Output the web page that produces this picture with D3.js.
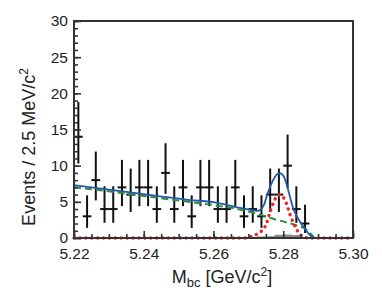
<!DOCTYPE html>
<html>
<head>
<meta charset="utf-8">
<script src="https://cdn.jsdelivr.net/npm/d3@7"></script>
<style>
  body { margin: 0; background: #fff; }
  svg { display: block; font-family: 'Liberation Sans', Arial, sans-serif; }
</style>
</head>
<body>
<svg id="chart" width="382" height="290"></svg>
<script>
// bin centres (2.5 MeV bins) and counts
const binCenters = [5.22125, 5.22375, 5.22625, 5.22875, 5.23125, 5.23375, 5.23625, 5.23875,
  5.24125, 5.24375, 5.24625, 5.24875, 5.25125, 5.25375, 5.25625, 5.25875,
  5.26125, 5.26375, 5.26625, 5.26875, 5.27125, 5.27375, 5.27625, 5.27875,
  5.28125, 5.28375, 5.28625, 5.28875, 5.29125, 5.29375, 5.29625, 5.29875];
const counts = [14, 3, 8, 4, 4, 7, 6, 7, 7, 4, 9, 4, 7, 3, 7, 7,
  4, 4, 7, 3, 4, 3, 6, 6, 10, 4, 2, 0, 0, 0, 0, 0];
// ends of the (asymmetric) error bars
const errLow = [10.3, 1.4, 5.2, 2.1, 2.1, 4.4, 3.6, 4.4, 4.4, 2.1, 6.1, 2.1, 4.4, 1.4, 4.4, 4.4,
  2.1, 2.1, 4.4, 1.4, 2.1, 1.4, 3.6, 3.6, 6.9, 2.1, 0.7, 0, 0, 0, 0, 0];
const errHigh = [18.8, 5.9, 11.95, 7.15, 7.15, 10.8, 9.6, 10.8, 10.8, 7.15, 13.1, 7.15, 10.8, 5.9, 10.8, 10.8,
  7.15, 7.15, 10.8, 5.9, 7.15, 5.9, 9.6, 9.6, 14.3, 7.15, 4.6, 0, 0, 0, 0, 0];
// small grey peaking component (per bin)
const peakingBkg = [0, 0, 0, 0, 0, 0, 0, 0, 0, 0, 0, 0, 0, 0, 0, 0,
  0, 0, 0.05, 0.1, 0.15, 0.2, 0.25, 0.45, 0.5, 0.4, 0.15, 0, 0, 0, 0, 0];

// fit curves, sampled by eye: [Mbc, value]
const totalFit = [[5.2200, 7.3], [5.2361, 6.3], [5.2533, 5.25], [5.2599, 4.95], [5.2676, 4.15],
  [5.2705, 3.9], [5.2725, 3.75], [5.2736, 3.95], [5.2745, 4.6], [5.2756, 6.3], [5.2771, 8.0],
  [5.2782, 8.8], [5.2790, 8.95], [5.2799, 8.7], [5.2808, 7.7], [5.2816, 6.3], [5.2828, 4.2],
  [5.2839, 3.0], [5.2848, 2.25], [5.2860, 1.4], [5.2871, 0.7], [5.2883, 0.1], [5.2886, 0]];
const bkgFit = [[5.2200, 7.0], [5.2260, 6.7], [5.2361, 6.05], [5.2466, 5.4], [5.2561, 4.8],
  [5.2647, 4.2], [5.2724, 3.35], [5.2771, 2.65], [5.2810, 2.15], [5.2834, 1.8],
  [5.2862, 1.3], [5.2877, 0.7], [5.2885, 0.25], [5.2890, 0]];
const signalFit = [[5.2200, 0], [5.2690, 0], [5.2705, 0.15], [5.2719, 0.4], [5.2733, 0.8],
  [5.2743, 1.2], [5.2751, 1.9], [5.2762, 3.6], [5.2771, 4.8], [5.2779, 5.6], [5.2789, 5.95],
  [5.2799, 5.7], [5.2808, 4.9], [5.2819, 3.3], [5.2828, 2.2], [5.2837, 1.3], [5.2848, 0.5],
  [5.2860, 0.15], [5.2871, 0], [5.3000, 0]];

const xTicks = [5.22, 5.24, 5.26, 5.28, 5.30];
const yTicks = [0, 5, 10, 15, 20, 25, 30];
const binWidth = 0.0025;

const svg = d3.select('#chart');
const margin = { top: 21, right: 29, bottom: 52, left: 74 };
const W = 382 - margin.left - margin.right;
const H = 290 - margin.top - margin.bottom;
const g = svg.append('g').attr('transform', `translate(${margin.left},${margin.top})`);

const x = d3.scaleLinear().domain([5.22, 5.30]).range([0, W]);
const y = d3.scaleLinear().domain([0, 30]).range([H, 0]);

// grey peaking histogram
g.append('path')
  .datum(binCenters.map((c, i) => [c, peakingBkg[i]]))
  .attr('fill', '#8c8c8c')
  .attr('d', d3.area()
    .curve(d3.curveStepAfter)
    .x((d) => x(d[0] - binWidth / 2))
    .y0(y(0))
    .y1((d) => y(d[1])));

// data points
const pts = binCenters.map((c, i) => ({ c, n: counts[i], lo: errLow[i], hi: errHigh[i] }))
  .filter((d) => d.n > 0);
const pg = g.append('g').attr('stroke', '#111').attr('stroke-width', 2);
pg.selectAll('line.v').data(pts).enter().append('line')
  .attr('x1', (d) => x(d.c)).attr('x2', (d) => x(d.c))
  .attr('y1', (d) => y(d.lo)).attr('y2', (d) => y(d.hi));
pg.selectAll('line.h').data(pts).enter().append('line')
  .attr('x1', (d) => x(d.c - binWidth / 2)).attr('x2', (d) => x(d.c + binWidth / 2))
  .attr('y1', (d) => y(d.n)).attr('y2', (d) => y(d.n));

const line = d3.line().curve(d3.curveMonotoneX).x((d) => x(d[0])).y((d) => y(d[1]));

// background (dashed green)
g.append('path').datum(bkgFit)
  .attr('fill', 'none').attr('stroke', '#2e8b3e').attr('stroke-width', 2)
  .attr('stroke-dasharray', '7,4').attr('d', line);

// signal (red dots)
g.append('path').datum(signalFit)
  .attr('fill', 'none').attr('stroke', '#ec2227').attr('stroke-width', 3.4)
  .attr('stroke-linecap', 'round').attr('stroke-dasharray', '0.1,5.8').attr('d', line);

// total fit (blue)
g.append('path').datum(totalFit)
  .attr('fill', 'none').attr('stroke', '#2459ab').attr('stroke-width', 1.8).attr('d', line);

// AXES
const tickFont = (sel) => sel.selectAll('text')
  .attr('font-size', 15.5).attr('fill', '#222');

const yMinor = g.append('g').call(d3.axisLeft(y).ticks(30).tickSize(-4).tickFormat(''));
yMinor.select('.domain').remove();
const yAxis = g.append('g').call(d3.axisLeft(y).tickValues(yTicks).tickSize(-7).tickPadding(6).tickFormat(d3.format('d')));
yAxis.select('.domain').remove();
tickFont(yAxis);

const xMinor = g.append('g').attr('transform', `translate(0,${H})`)
  .call(d3.axisBottom(x).ticks(16).tickSize(-4).tickFormat(''));
xMinor.select('.domain').remove();
const xAxis = g.append('g').attr('transform', `translate(0,${H})`)
  .call(d3.axisBottom(x).tickValues(xTicks).tickSize(-7).tickPadding(10).tickFormat(d3.format('.2f')));
xAxis.select('.domain').remove();
tickFont(xAxis);

g.selectAll('.tick line').attr('stroke', '#333').attr('stroke-width', 1.6);

// frame
g.append('rect').attr('width', W).attr('height', H)
  .attr('fill', 'none').attr('stroke', '#333').attr('stroke-width', 2);

// titles
const yt = svg.append('text')
  .attr('transform', `translate(35,147) rotate(-90)`)
  .attr('text-anchor', 'middle').attr('font-size', 18).attr('fill', '#222');
yt.append('tspan').text('Events / 2.5 MeV/c');
yt.append('tspan').attr('font-size', 12).attr('dy', -7).text('2');

const xt = svg.append('text')
  .attr('x', 222).attr('y', 283)
  .attr('text-anchor', 'middle').attr('font-size', 18).attr('fill', '#222');
xt.append('tspan').text('M');
xt.append('tspan').attr('font-size', 13).attr('dy', 4).text('bc');
xt.append('tspan').attr('dy', -4).text(' [GeV/c');
xt.append('tspan').attr('font-size', 12).attr('dy', -7).text('2');
xt.append('tspan').attr('dy', 7).text(']');
</script>
</body>
</html>
